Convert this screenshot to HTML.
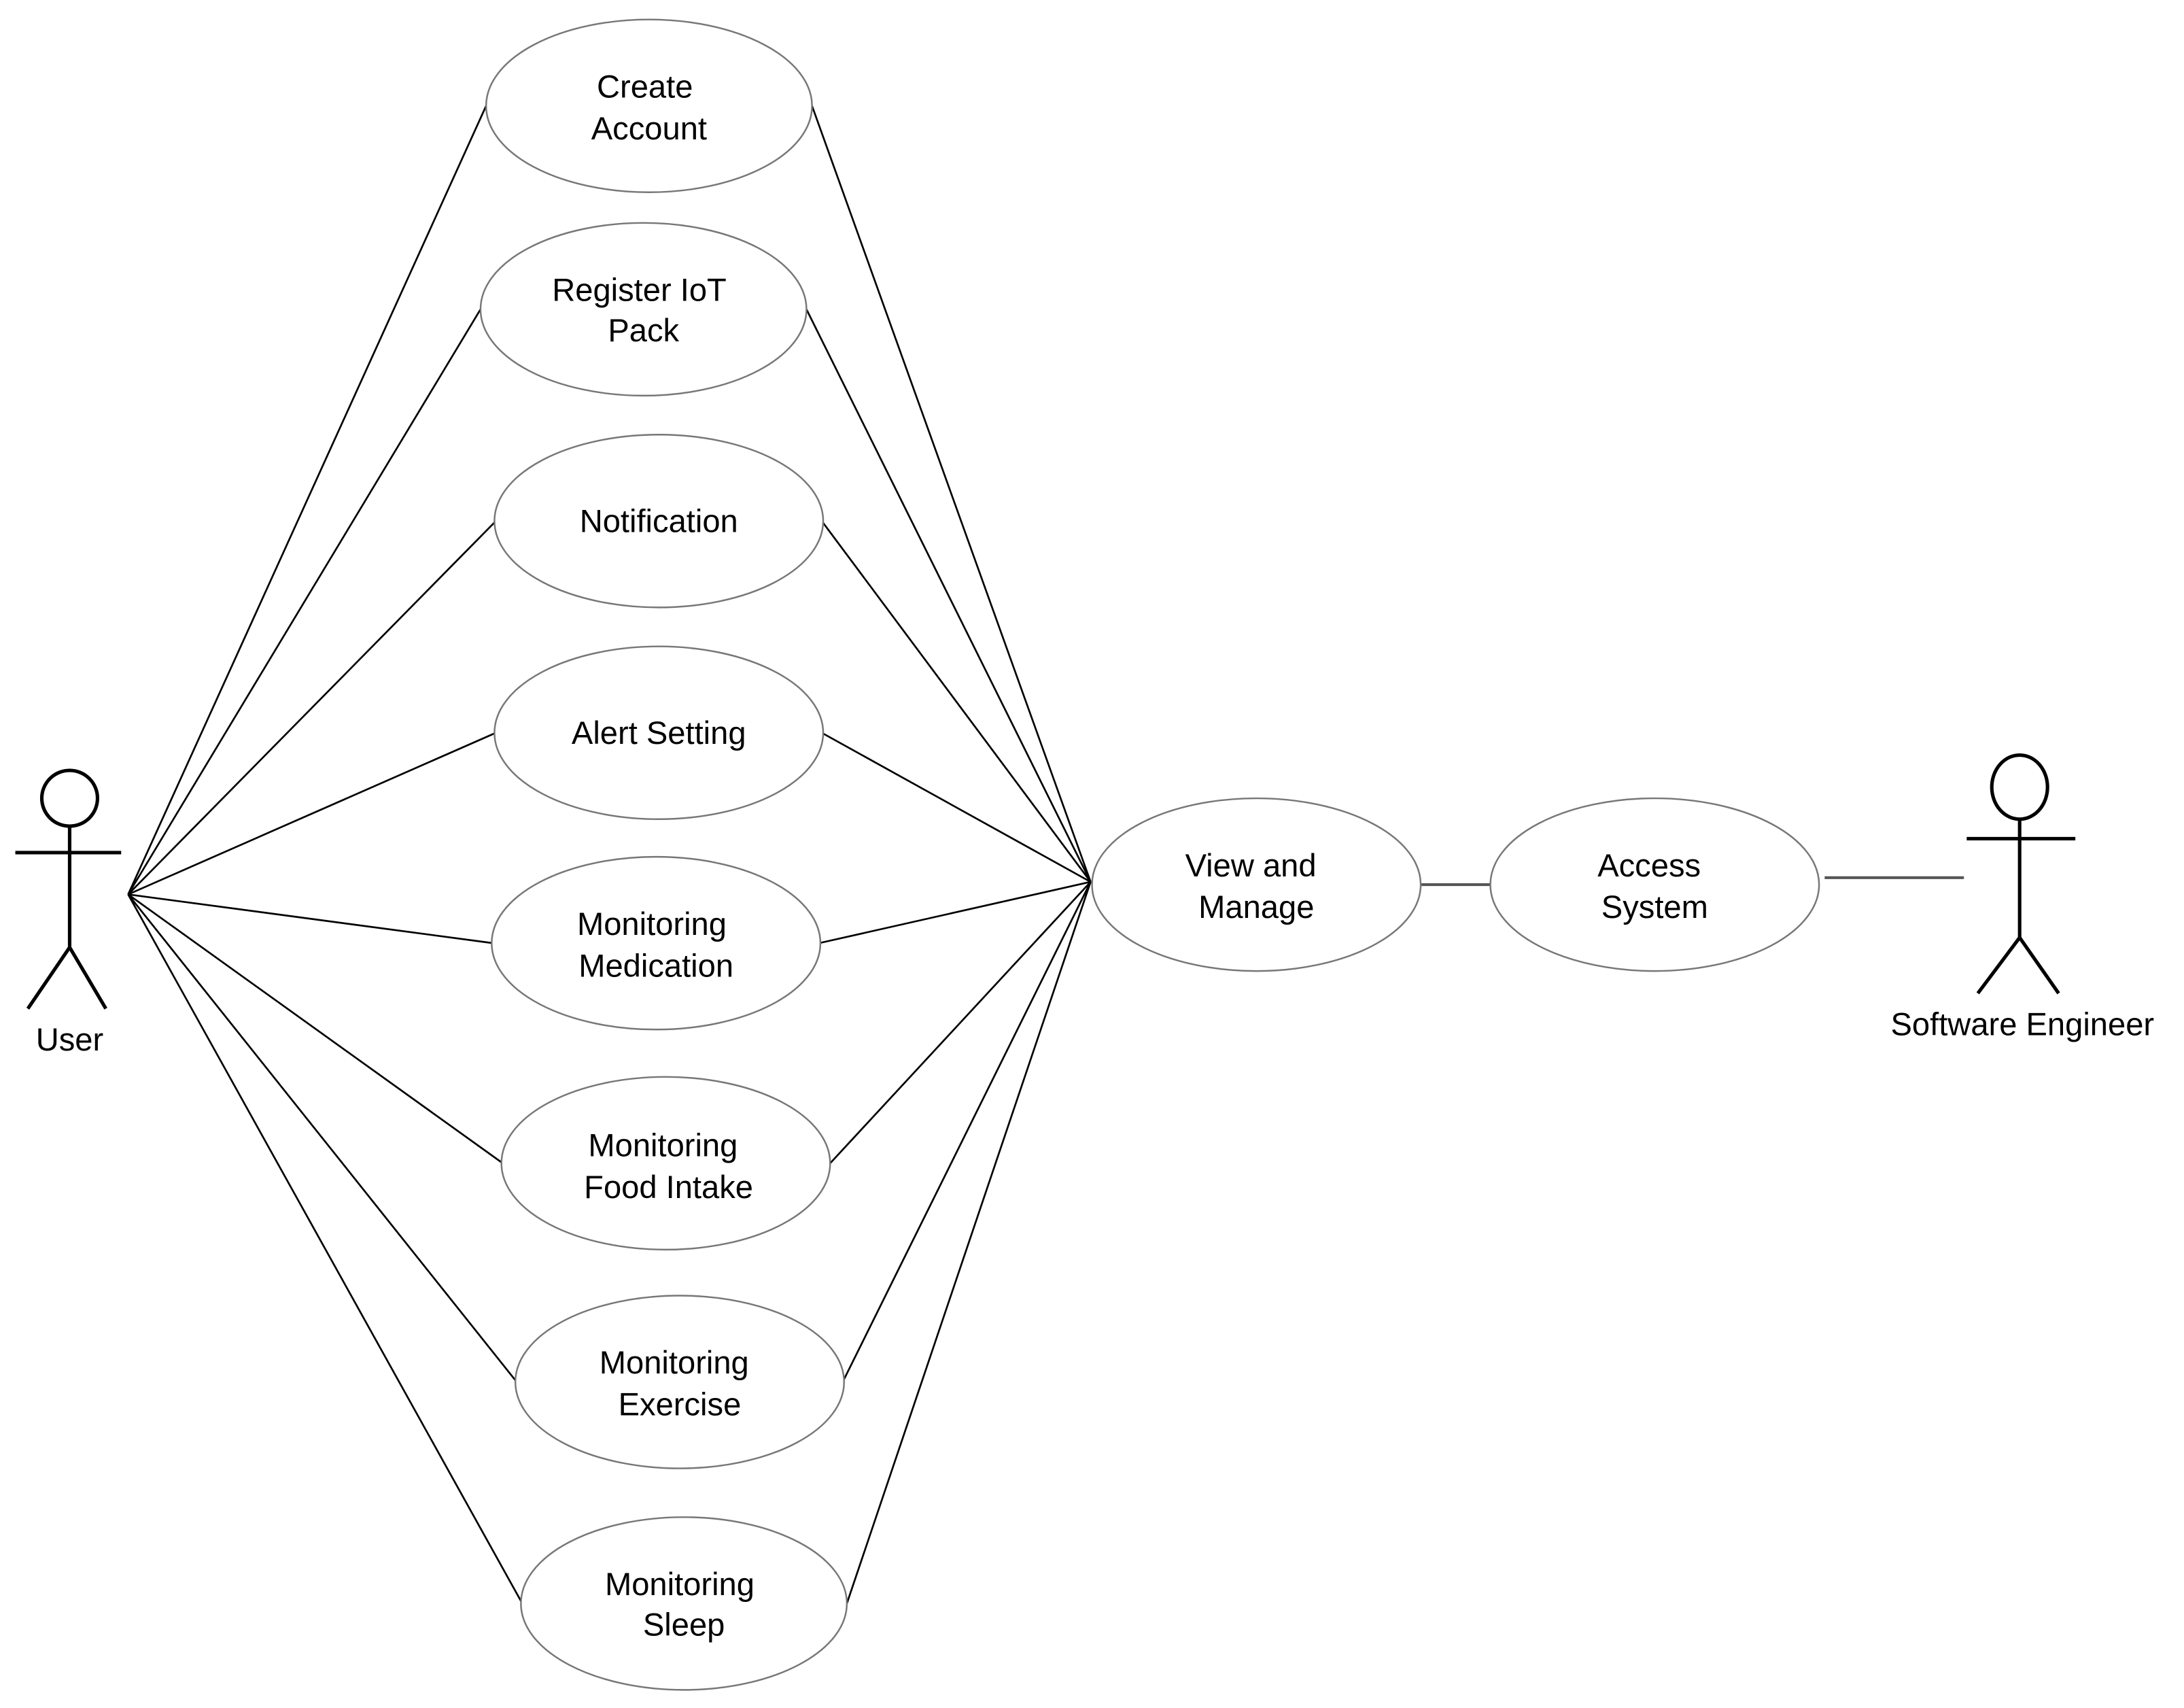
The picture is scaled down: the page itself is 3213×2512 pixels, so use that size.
<!DOCTYPE html>
<html><head><meta charset="utf-8"><style>
html,body{margin:0;padding:0;background:#fff;}
svg{display:block;}
text{font-family:"Liberation Sans",Arial,sans-serif;font-size:23px;fill:#000;text-anchor:middle;}
</style></head><body>
<svg width="3213" height="2512" viewBox="0 0 1568 1226" preserveAspectRatio="none">
<g stroke="#000" stroke-width="1.3" fill="none">
<!-- user lines -->
<line x1="92" y1="642" x2="349" y2="76"/>
<line x1="92" y1="642" x2="345" y2="222"/>
<line x1="92" y1="642" x2="356" y2="374"/>
<line x1="92" y1="642" x2="356" y2="526"/>
<line x1="92" y1="642" x2="354" y2="677"/>
<line x1="92" y1="642" x2="361" y2="835"/>
<line x1="92" y1="642" x2="371" y2="992"/>
<line x1="92" y1="642" x2="375" y2="1151"/>
<!-- to view and manage -->
<line x1="583" y1="76" x2="783" y2="633"/>
<line x1="579" y1="222" x2="783" y2="633"/>
<line x1="590" y1="374" x2="783" y2="633"/>
<line x1="590" y1="526" x2="783" y2="633"/>
<line x1="588" y1="677" x2="783" y2="633"/>
<line x1="596" y1="835" x2="783" y2="633"/>
<line x1="605" y1="992" x2="783" y2="633"/>
<line x1="608" y1="1151" x2="783" y2="633"/>
<line x1="1020" y1="635" x2="1070" y2="635" stroke="#555" stroke-width="2"/>
<line x1="1310" y1="630" x2="1410" y2="630" stroke="#555" stroke-width="2"/>
</g>
<g stroke="#777" stroke-width="1.2" fill="#fff">
<ellipse cx="466" cy="76" rx="117" ry="62"/>
<ellipse cx="462" cy="222" rx="117" ry="62"/>
<ellipse cx="473" cy="374" rx="118" ry="62"/>
<ellipse cx="473" cy="526" rx="118" ry="62"/>
<ellipse cx="471" cy="677" rx="118" ry="62"/>
<ellipse cx="478" cy="835" rx="118" ry="62"/>
<ellipse cx="488" cy="992" rx="118" ry="62"/>
<ellipse cx="491" cy="1151" rx="117" ry="62"/>
<ellipse cx="902" cy="635" rx="118" ry="62"/>
<ellipse cx="1188" cy="635" rx="118" ry="62"/>
</g>
<text x="463" y="70">Create</text><text x="466" y="100">Account</text>
<text x="459" y="216">Register IoT</text><text x="462" y="245">Pack</text>
<text x="473" y="382">Notification</text>
<text x="473" y="534">Alert Setting</text>
<text x="468" y="671">Monitoring</text><text x="471" y="701">Medication</text>
<text x="476" y="830">Monitoring</text><text x="480" y="860">Food Intake</text>
<text x="484" y="986">Monitoring</text><text x="488" y="1016">Exercise</text>
<text x="488" y="1145">Monitoring</text><text x="491" y="1174">Sleep</text>
<text x="898" y="629">View and</text><text x="902" y="659">Manage</text>
<text x="1184" y="629">Access</text><text x="1188" y="659">System</text>
<g stroke="#000" stroke-width="2.5" fill="none">
<circle cx="50" cy="573" r="20"/>
<line x1="50" y1="593" x2="50" y2="680"/>
<line x1="11" y1="612" x2="87" y2="612"/>
<line x1="50" y1="680" x2="20" y2="724"/>
<line x1="50" y1="680" x2="76" y2="724"/>
<ellipse cx="1450" cy="565" rx="20" ry="23"/>
<line x1="1450" y1="588" x2="1450" y2="673"/>
<line x1="1412" y1="602" x2="1490" y2="602"/>
<line x1="1450" y1="673" x2="1420" y2="713"/>
<line x1="1450" y1="673" x2="1478" y2="713"/>
</g>
<text x="50" y="754">User</text>
<text x="1452" y="743">Software Engineer</text>
</svg>
</body></html>
